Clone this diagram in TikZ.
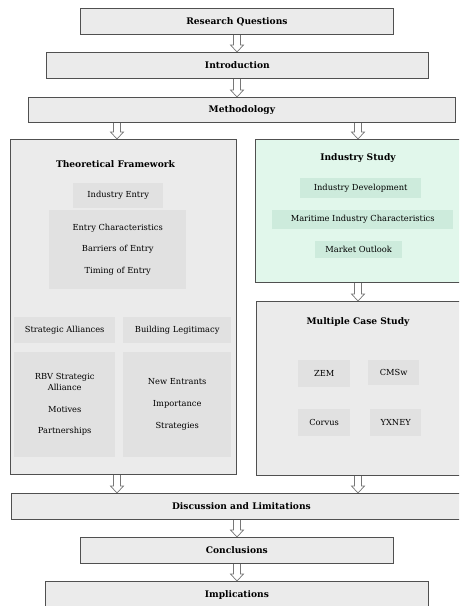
\documentclass[tikz,border=0pt]{standalone}
\usepackage{fontspec}
\setmainfont{DejaVu Serif}
\usetikzlibrary{calc,backgrounds}

\definecolor{boxfill}{HTML}{EBEBEB}
\definecolor{innerfill}{HTML}{E1E1E1}
\definecolor{greenfill}{HTML}{E1F7EB}
\definecolor{greeninner}{HTML}{CDEBDC}
\definecolor{edge}{HTML}{505050}
\definecolor{arrowedge}{HTML}{777777}

\tikzset{
  stage/.style={draw=edge, fill=boxfill, line width=0.8pt, inner sep=0pt,
    anchor=north west, font=\bfseries\fontsize{9.1}{11}\selectfont},
  panel/.style={stage},
  greenpanel/.style={stage, fill=greenfill},
  title/.style={inner sep=0pt, font=\bfseries\fontsize{9.1}{11}\selectfont},
  topic/.style={fill=innerfill, inner sep=0pt, anchor=north west, align=center,
    font=\fontsize{8.3}{10}\selectfont},
  greentopic/.style={topic, fill=greeninner},
  flow/.style={draw=arrowedge, fill=white, line width=0.7pt, line join=miter}
}

% hollow block arrow at horizontal position #1, from node #2 down to node #3
\newcommand\flowarrow[3]{%
  \draw[flow] let \p1=(#2.south), \p2=(#3.north) in
    (#1pt-3.5pt,\y1) -- (#1pt-3.5pt,\y2+7pt) -- (#1pt-6.5pt,\y2+7pt) --
    (#1pt,\y2) -- (#1pt+6.5pt,\y2+7pt) -- (#1pt+3.5pt,\y2+7pt) -- (#1pt+3.5pt,\y1);}

\begin{document}
\begin{tikzpicture}[x=1pt,y=-1pt]
\useasboundingbox (0,0) rectangle (459,606);
\clip (0,0) rectangle (459,606);

% main sequence
\node[stage, minimum width=313, minimum height=26] (rq) at (80,8) {Research Questions};
\node[stage, minimum width=382, minimum height=26] (intro) at (46,52) {Introduction};
\node[stage, minimum width=427, minimum height=25] (meth) at (28,97) {Methodology};

% theoretical framework
\node[panel, minimum width=226, minimum height=335] (tf) at (10,139) {};
\node[title] (tftitle) at (115.5,164) {Theoretical Framework};
\node[topic, minimum width=90, minimum height=25] (entry) at (73,183) {Industry Entry};
\node[topic, minimum width=137, minimum height=79, font=\fontsize{8.3}{21.5}\selectfont]
  (entrygrp) at (49,210) {Entry Characteristics\\Barriers of Entry\\Timing of Entry};
\node[topic, minimum width=101, minimum height=26] (alli) at (14,317) {Strategic Alliances};
\node[topic, minimum width=108, minimum height=26] (legit) at (123,317) {Building Legitimacy};
\node[topic, minimum width=101, minimum height=105, font=\fontsize{8.3}{11}\selectfont]
  (alligrp) at (14,352) {RBV Strategic\\Alliance\\[10.5pt]Motives\\[10.5pt]Partnerships};
\node[topic, minimum width=108, minimum height=105, font=\fontsize{8.3}{22}\selectfont]
  (legitgrp) at (123,352) {New Entrants\\Importance\\Strategies};

% industry study
\node[greenpanel, minimum width=230, minimum height=143] (is) at (255,139) {};
\node[title] (istitle) at (358,158) {Industry Study};
\node[greentopic, minimum width=121, minimum height=20] (dev) at (300,178) {Industry Development};
\node[greentopic, minimum width=181, minimum height=19] (mar) at (272,210) {Maritime Industry Characteristics};
\node[greentopic, minimum width=87, minimum height=17] (out) at (315,241) {Market Outlook};

% multiple case study
\node[panel, minimum width=230, minimum height=174] (mcs) at (256,301) {};
\node[title] (mcstitle) at (358,322) {Multiple Case Study};
\node[topic, minimum width=52, minimum height=27] (zem) at (298,360) {ZEM};
\node[topic, minimum width=51, minimum height=25] (cmsw) at (368,360) {CMSw};
\node[topic, minimum width=52, minimum height=27] (corvus) at (298,409) {Corvus};
\node[topic, minimum width=51, minimum height=27] (yxney) at (370,409) {YXNEY};

% closing sequence
\node[stage, minimum width=460, minimum height=26] (disc) at (11,493) {Discussion and Limitations};
\node[stage, minimum width=313, minimum height=26] (concl) at (80,537) {Conclusions};
\node[stage, minimum width=383, minimum height=40, text depth=14pt] (impl) at (45,581) {Implications};

\begin{pgfonlayer}{background}
\flowarrow{237}{rq}{intro}
\flowarrow{237}{intro}{meth}
\flowarrow{117}{meth}{tf}
\flowarrow{358}{meth}{is}
\flowarrow{358}{is}{mcs}
\flowarrow{117}{tf}{disc}
\flowarrow{358}{mcs}{disc}
\flowarrow{237}{disc}{concl}
\flowarrow{237}{concl}{impl}
\end{pgfonlayer}
\end{tikzpicture}
\end{document}
